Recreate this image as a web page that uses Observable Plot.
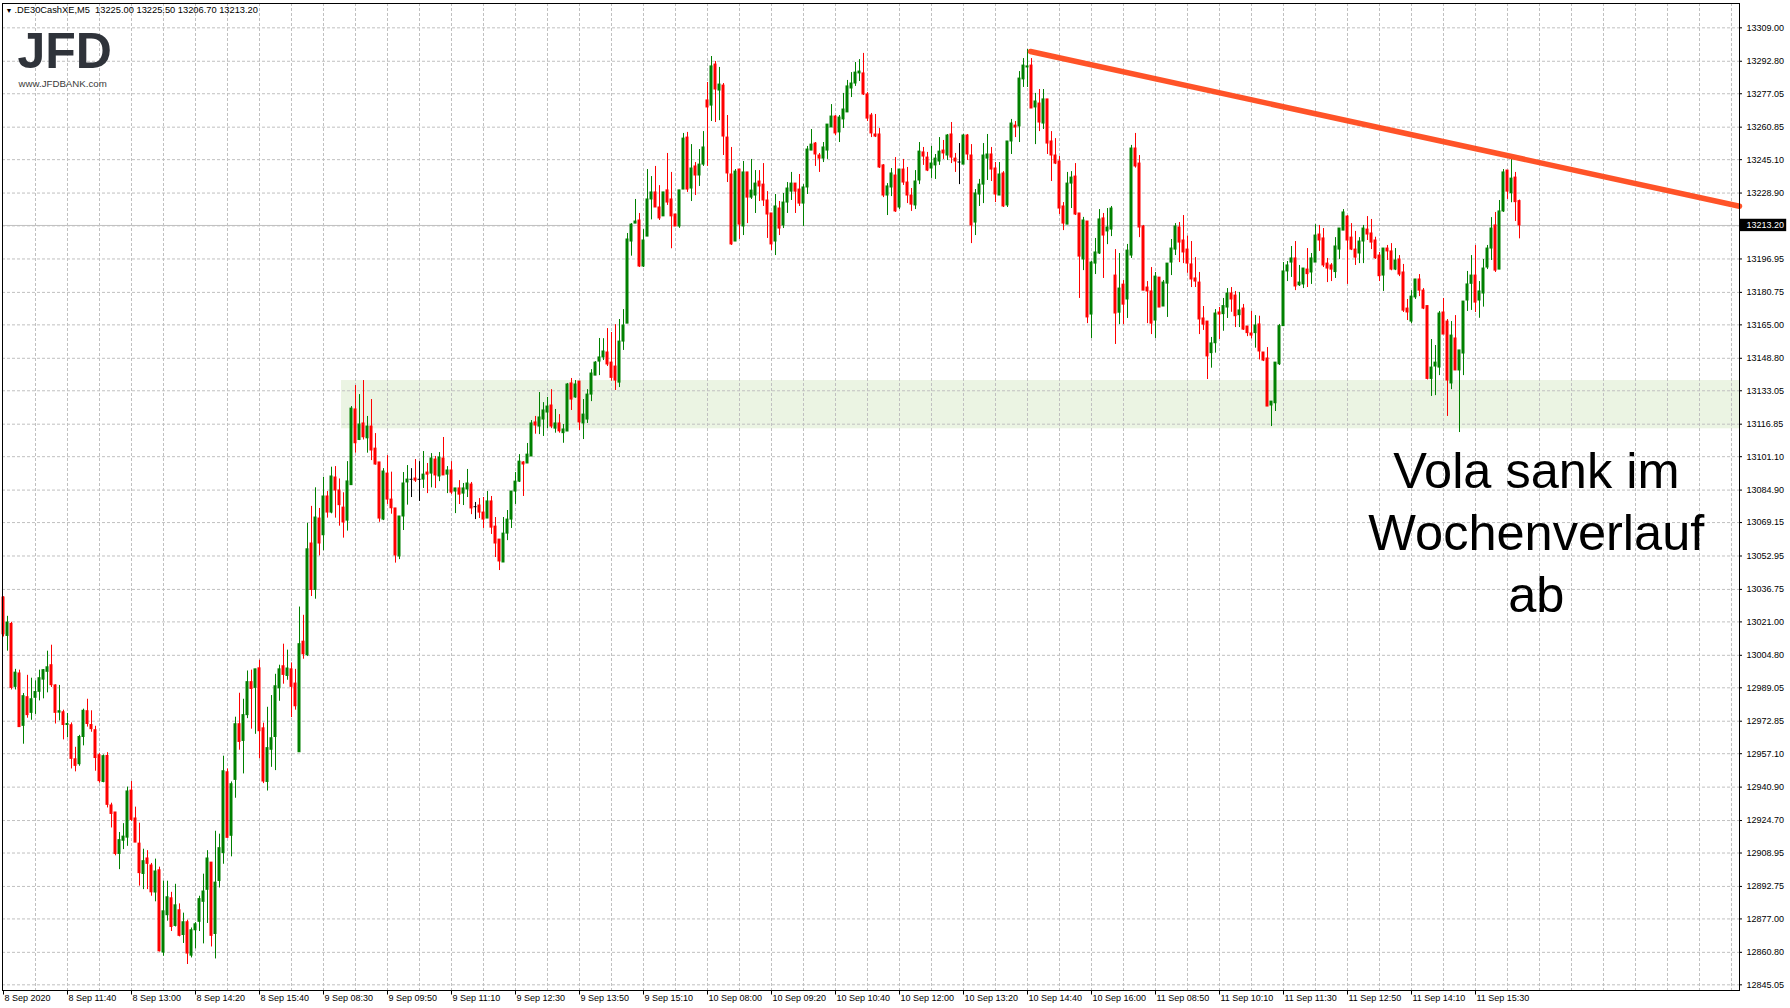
<!DOCTYPE html>
<html><head><meta charset="utf-8">
<script src="https://cdn.jsdelivr.net/npm/d3@7"></script>
<script src="https://cdn.jsdelivr.net/npm/@observablehq/plot@0.6"></script>
<style>html,body{margin:0;padding:0;background:#fff;}svg{display:block;}</style>
</head><body><div id="chart"></div>
<script>
// ---- data (5-minute bars, 8–11 Sep 2020) ----
const open = [13032.8,13014.2,13020,12989.5,12996,12970.6,12984.5,12976.9,12984.2,12987.1,
12993,12996.8,13000,12990.2,12977,12977.2,12971,12970.9,12954.4,12952,
12965.2,12977.7,12971,12968.5,12956.4,12943.4,12956,12932,12928.6,12908.5,
12914.9,12916.4,12939.2,12925.7,12913.5,12898.8,12906.3,12902.9,12889.8,12900.6,
12860.7,12878.8,12887,12873.6,12881.2,12869.2,12875.4,12859.2,12871.5,12875.6,
12885.3,12891.1,12904.3,12869.7,12895.4,12908.9,12948.1,12917.3,12944.4,12971.4,
12963.3,12975.8,12991.8,12989,12998.5,12969.4,12943.4,12959,12965.2,12988.8,
12999.5,12994.8,12998,12991.1,12957.8,13011.4,13004.8,13059,13036.5,13071.1,
13063,13081.8,13074,13091,13084.7,13076.4,13070.1,13087.3,13124,13109.2,
13117.2,13110,13115.7,13105,13098.3,13070.6,13092.9,13080.3,13076,13052.7,
13072.1,13088.6,13089.9,13090.5,13089.9,13090,13093.4,13092.9,13099.7,13091.5,
13100.2,13092.4,13094.4,13084.2,13085.7,13083.2,13085.2,13087.6,13076.6,13077.4,
13074,13071.1,13079.4,13067.2,13060.9,13049.8,13063.8,13070.6,13084.2,13089,
13098.3,13097.8,13101.2,13117.7,13115.7,13119.1,13122.5,13125.9,13114.7,13117.2,
13112.5,13113.3,13136.6,13129.8,13137.5,13117.2,13119.1,13131.2,13140.4,13147.2,
13149.2,13151.6,13146.7,13144.8,13137,13156.9,13165.6,13205.4,13214.1,13215.6,
13193.3,13207.8,13225.8,13229.2,13221.9,13217.6,13230.2,13225.8,13218.5,13212.7,
13230.6,13255.8,13231.1,13241.8,13237.4,13242.7,13273.8,13271.3,13291.2,13278.6,
13281,13255.8,13237.9,13205.4,13240.3,13212.7,13238.9,13226.7,13227.7,13234.5,
13233,13225.3,13219,13205.4,13221.4,13213.2,13224.3,13229.6,13233.5,13230.6,
13223.8,13231.6,13249.5,13252.9,13247.1,13245.6,13249.5,13260.7,13266,13258.3,
13264.6,13268,13279.6,13282,13286.9,13286.9,13276.7,13266.5,13257.3,13257.3,
13242.3,13227.7,13231.6,13237.4,13221.9,13240.3,13234,13227.7,13222.9,13235,
13248.6,13246.1,13240.8,13242.3,13244.2,13249.5,13247.1,13257.3,13245.6,13243.7,
13242.7,13256.8,13247.1,13214.6,13228.2,13233,13245.6,13247.6,13240.8,13227.7,
13238.4,13222.9,13253.9,13261.6,13261.2,13284,13289.8,13290.7,13270.4,13272.3,
13262.6,13274.3,13253.9,13247.1,13244.2,13222.4,13213.6,13233.5,13236.9,13219,
13196.7,13215.1,13170,13194.7,13199.6,13216.6,13210.3,13211.2,13188.9,13170.9,
13184.5,13177.3,13198.6,13250.5,13243.2,13212.7,13183.1,13181.2,13167.1,13187.9,
13173.9,13185,13195.2,13201.5,13212.2,13205.9,13201.5,13194.3,13187.5,13185.5,
13168.1,13166.6,13151.3,13156.1,13171,13170.2,13173.4,13180.2,13179.2,13169.7,
13172.9,13164.2,13160.8,13161,13165.2,13151.6,13148.7,13125.9,13127,13145.9,
13164.4,13190.9,13195.2,13197.2,13184.2,13184.6,13191.8,13190.4,13195.2,13208.8,
13206.9,13194.7,13193.8,13190.6,13201.5,13210.7,13217.5,13207.3,13201.5,13199.6,
13205.4,13211.2,13209.3,13205.9,13198.6,13188.9,13202,13200.6,13191.8,13196.7,
13190.4,13172.9,13166.6,13178.3,13187,13181.6,13174.1,13138.8,13144.8,13144.3,
13171,13166.6,13136.6,13158.4,13142.9,13151.1,13176.8,13184.9,13188.9,13176.8,
13180.2,13192.8,13202,13213.2,13191.8,13220,13239.8,13228.8,13236.4,13225.0];

const high = [13033.2,13023.7,13020.8,12998,12997.6,12986.3,12995.1,12993.7,12992.4,12997.6,
12997.9,13006.8,13009.7,12990.5,12990.2,12978.2,12976.6,12972,12960.2,12966,
12978.7,12983.5,12977.9,12970.4,12957.3,12956.5,12957.6,12933.1,12928.6,12918.9,
12923.2,12940.9,12943.6,12931.2,12923.4,12910.8,12910.1,12903.9,12906,12902.1,
12895.3,12895.3,12889.9,12893.8,12884.3,12879.8,12876.4,12872.6,12875.2,12888,
12898.7,12910.1,12904.3,12919.5,12918.1,12955.9,12949.7,12943.4,12974.8,12986.4,
12983.5,12997.2,12997.6,12998,13002.4,12971.9,12979.6,12985.3,12995.6,13000,
13010.2,13007.3,13001.1,12998,13028.2,13024.2,13068.8,13077,13086,13076,
13091.1,13084.2,13096,13096.3,13090.3,13083.6,13098.7,13125.4,13135.6,13131.2,
13138,13120.6,13128.8,13112.3,13098.3,13095.3,13101.6,13093.6,13076,13072.1,
13093.4,13096.8,13095.3,13099.7,13098.7,13103.6,13097.8,13102.6,13101.2,13103.1,
13110.4,13096.3,13098.7,13085.7,13089.5,13088.1,13094.9,13088.6,13078.9,13080.8,
13081.3,13084.2,13081.8,13071.6,13060.9,13071.6,13075,13084.2,13093.4,13102.1,
13098.7,13107.5,13118.6,13120.6,13132.2,13127.3,13129.8,13133.6,13124,13121.5,
13116.7,13136.6,13139,13138,13137.5,13128.8,13133.6,13143.3,13147.2,13158.4,
13158.3,13163.2,13161.3,13165.1,13167.6,13172.4,13209.3,13214.1,13225.8,13219,
13211.2,13240.3,13236.9,13241.8,13232.5,13229.2,13248.1,13238.9,13218.5,13230.2,
13257.8,13258.3,13252.4,13243.7,13250,13258.7,13282.5,13295.1,13292.7,13289.8,
13282,13266.5,13251,13240.3,13240.3,13244.2,13238.9,13245.2,13239.8,13239.8,
13243.2,13229.6,13219,13228.2,13224.8,13228.7,13234,13238.9,13233.5,13237.9,
13233,13251.5,13259.7,13253.4,13248.1,13253.4,13262.1,13271.8,13266.5,13266.5,
13277.2,13283.5,13287.3,13292.2,13293.6,13296.6,13277.6,13267.5,13267,13260.2,
13242.7,13233.5,13240.8,13246.1,13240.3,13245.2,13241.3,13231.1,13239.8,13253.4,
13251,13248.6,13251.5,13247.6,13255.8,13254.4,13257.3,13263.1,13248.1,13252.9,
13257.3,13257.3,13252.4,13230.6,13235.5,13252.9,13257.3,13251,13243.7,13243.7,
13239.3,13253.9,13264.6,13263.6,13287.8,13294.1,13298.5,13294.1,13277.2,13279.1,
13279.1,13274.3,13258.7,13255.3,13246.6,13224.3,13238.9,13239.3,13243.2,13219,
13217.1,13215.1,13195.7,13206.9,13220.9,13219,13221.4,13222.4,13201.5,13199.6,
13186.5,13204,13252,13257.8,13247.1,13213.2,13186,13192.8,13190.4,13187.9,
13186.5,13194.7,13206.4,13214.1,13214.6,13218,13208,13205.4,13197.6,13190.4,
13173.9,13166.6,13158.9,13172.4,13173.4,13177.8,13182.6,13183.1,13181.2,13180.7,
13174.9,13164.2,13171.5,13169.5,13169.2,13151.6,13154,13127.8,13146.7,13165.2,
13195.2,13195.7,13203,13205.4,13193.8,13192.3,13202,13199.6,13213.6,13213.2,
13211.7,13197.2,13194.7,13207.3,13211.7,13220.9,13218,13214.1,13210.3,13207.3,
13213.2,13217.5,13216.1,13207.5,13200.1,13202,13203.5,13204.4,13202,13198.6,
13194.3,13177.3,13181.6,13187,13189.4,13182.6,13174.1,13157.9,13155,13171.5,
13177.8,13167.6,13166.6,13169.5,13152.6,13176.3,13190.9,13198.6,13203.5,13186,
13196.7,13203.5,13217,13219.5,13225.3,13240.3,13239.8,13245.2,13238.9,13225.5];

const low = [13013.7,13006.8,12988,12988,12969.8,12961.7,12974.3,12973.3,12976.1,12982.7,
12983.7,12986.6,12989.2,12971.5,12973,12963.8,12964.8,12949.7,12948.3,12951,
12960.9,12970,12967.5,12948.6,12942.8,12943,12930.8,12921.1,12907.6,12900.9,
12910.6,12912.2,12924.2,12914,12892.9,12891.2,12891.2,12888,12885.3,12861,
12858.9,12875.9,12870.9,12873.1,12868.3,12865.1,12854.9,12858.1,12862.5,12870.9,
12864.9,12874.8,12863.4,12857.6,12892,12903.5,12916.3,12907.1,12935.5,12958.8,
12947.3,12974.1,12969,12966.5,12954.7,12942.6,12939,12950.5,12948.9,12982.5,
12990.8,12992.7,12974.6,12978.2,12957.8,13002.9,13004.2,13033.3,13032,13053,
13055.5,13071.3,13073.4,13071.3,13067.4,13061.6,13065,13087.3,13102.8,13108.9,
13109.2,13102.8,13099.2,13097,13069.3,13070.1,13077.9,13073.2,13049.5,13051.2,
13065.3,13077.6,13081.3,13088.6,13079.4,13085.7,13083.2,13086,13085.7,13089,
13092,13083.2,13082.7,13073.5,13077.9,13077.4,13081.3,13073,13070.6,13071.1,
13066.3,13071.1,13063.4,13052.2,13045.9,13049.8,13060.4,13066.3,13077.9,13088.6,
13081.8,13097.8,13101.2,13112,13111.8,13110.9,13114.7,13114.7,13112.5,13112.5,
13107.6,13113.3,13123.5,13129.4,13113.8,13109.4,13117.2,13127.8,13140.4,13140.4,
13147.7,13144.8,13137.7,13133.2,13134.6,13152.6,13165.6,13198.3,13214.1,13192.8,
13192.8,13207.8,13215.9,13221.9,13215.6,13217.6,13222.9,13201.9,13212.7,13211.8,
13230.6,13229.2,13224.8,13227.7,13232.1,13241.8,13241.8,13263.6,13263.1,13264,
13247.1,13234,13203.5,13205.4,13206.4,13208.3,13214.1,13225.8,13219,13224.8,
13222.4,13206.9,13201,13198.6,13208.3,13211.7,13219,13225.3,13219,13222.4,
13212.7,13228.2,13249.5,13241.8,13238.9,13243.7,13245.2,13260.7,13256.8,13253.4,
13260.2,13268,13275.2,13280.6,13283,13276.2,13263.6,13255.8,13255.8,13240.8,
13226.7,13218,13227.2,13219.5,13220.9,13232.6,13223.8,13220,13220.9,13233,
13242.3,13239.3,13236,13235.5,13242.3,13245.2,13244.7,13243.2,13238.9,13233,
13242.7,13244.7,13204.4,13208.3,13222.4,13223.8,13235,13234.5,13224.3,13227.7,
13221.9,13221.9,13247.6,13255.8,13253.4,13280.1,13280.1,13269.9,13252.4,13258.7,
13259.7,13247.6,13234.5,13242.7,13218.5,13210.7,13213.6,13221.4,13218,13177.8,
13191.3,13165.6,13158.4,13189.4,13199.1,13187.5,13203.9,13207.8,13155.5,13165.1,
13165.1,13168.1,13197.2,13241,13207.3,13181.6,13165.6,13160.3,13158.4,13173.4,
13173.9,13168.6,13188.9,13198.6,13195.2,13194.7,13190,13183.1,13183.1,13160.3,
13162.3,13138.5,13144,13151.3,13157.9,13161.9,13168.1,13171.1,13163.7,13163.7,
13162.3,13159.3,13158.2,13153.7,13148,13147.2,13125.4,13115.7,13123,13145.3,
13164.4,13186,13188,13181.6,13183.6,13182.6,13183.1,13184.6,13195.2,13200.6,
13192.8,13185.5,13186,13187.5,13196.7,13210.7,13184.6,13201,13193.8,13194.7,
13194.7,13205.9,13201.5,13196.7,13186,13181.2,13196.2,13191.2,13191.3,13188.4,
13171,13167.1,13165.6,13177.3,13178.7,13172.4,13138.3,13130.3,13130.7,13140.4,
13160.3,13120.6,13133.6,13142.9,13112.8,13140.4,13171.5,13172,13171,13168.2,
13173.6,13191.8,13196.2,13190.4,13191.8,13219.5,13225.8,13224.2,13215.1,13206.7];

const close = [13015,13020.7,12989,12996.4,12970,12985,12975.8,12983.5,12987,12993.7,
12997.6,12999,12990.3,12976.9,12977.7,12971,12971.5,12954.6,12951.2,12965.2,
12977.9,12971.5,12969,12955,12943.8,12955.9,12932.3,12927.9,12908.5,12915.2,
12916.9,12938.8,12925,12914,12899.2,12905,12903.7,12889.9,12900,12861.3,
12880.7,12887.5,12873.1,12883.6,12868.8,12875.4,12860.2,12871.5,12874.4,12886.6,
12890.3,12906.3,12868.8,12894.6,12911.3,12948.6,12916.3,12942.3,12971.4,12962.8,
12975.8,12991.8,12988.5,12998,12968,12943.6,12959.8,12964.6,12989.8,12998,
12995.3,12998.4,12989.5,12980.1,13010.2,13005.3,13056.2,13036.5,13071.6,13059,
13081.8,13074,13091.5,13084.7,13077.6,13069.2,13089.1,13124.4,13107.6,13116.7,
13110.5,13115.7,13104.1,13097.3,13071.1,13093.9,13080.3,13076.1,13053.2,13072.1,
13088.1,13090,13089.9,13089.5,13089.9,13092.4,13092.4,13100.2,13092,13100.7,
13092,13094.4,13083.7,13085.7,13082.7,13085.7,13088.1,13076,13076.6,13074,
13070.6,13079.4,13066.7,13059,13050.3,13063.8,13070.6,13084.2,13089,13098.7,
13097.3,13102.1,13117.2,13116.2,13120.1,13123.5,13125.4,13115.7,13117.2,13113.4,
13114.3,13136.1,13128.8,13136.1,13117.7,13121.5,13131.2,13141.4,13146.7,13149.2,
13152.1,13145.8,13139.3,13138,13156.9,13164.7,13206.4,13213.6,13215.1,13193.3,
13205.9,13225.8,13229.2,13221.9,13216.6,13229.2,13224.3,13217.6,13212.7,13230.2,
13255.3,13230.6,13240.8,13237.4,13242.7,13251,13270.4,13290.3,13279.1,13281.5,
13256.3,13238.4,13204,13239.3,13213.6,13238.9,13226.7,13230.1,13233.5,13232.1,
13225.3,13218.5,13204,13222.4,13211.7,13224.3,13231.1,13233.5,13229.6,13223.8,
13231.6,13250,13252.4,13247.6,13245.6,13251,13262.1,13266,13257.8,13265.5,
13269.4,13280.6,13282,13287.3,13287.8,13276.7,13265,13257.8,13256.3,13241.3,
13227.7,13232.1,13238.4,13220,13240.3,13234,13227.7,13223.3,13234.5,13249,
13246.6,13239.8,13243.2,13245.6,13249,13248.1,13256.8,13246.1,13244.2,13243.7,
13256.8,13247.6,13213.2,13228.7,13233,13247.1,13247.6,13240.3,13228.2,13237.9,
13222.4,13253.9,13262.6,13260.7,13284.4,13290.7,13290.3,13269.9,13273.3,13263.1,
13274.3,13252.9,13247.1,13243.2,13221.4,13214.1,13233.5,13236.4,13218.5,13198.1,
13215.6,13168.6,13195.2,13200.1,13216.1,13208.3,13212.2,13221.4,13170.5,13182.6,
13174.8,13201,13250.5,13241.8,13212.2,13181.6,13181.2,13165.6,13188.4,13173.4,
13185.5,13194.7,13202,13212.7,13204.9,13200.1,13194.7,13187,13186,13167.6,
13165.1,13149.7,13156,13170.5,13170,13174.1,13180.2,13177.3,13169.2,13172,
13162.7,13161,13159.8,13164.7,13152.1,13147.7,13125.4,13127.8,13146.7,13164.4,
13190.9,13193.8,13197.2,13183.6,13185.5,13192.3,13189.6,13197.2,13208.3,13205.9,
13193.8,13192.3,13191.8,13203,13211.7,13219.5,13205.9,13201.5,13197.6,13205.4,
13211.7,13208.8,13204.9,13197.3,13188.6,13202,13200.6,13191.8,13196.2,13189.4,
13171.9,13171,13178.7,13187,13181.6,13172.9,13138.8,13144.3,13146.7,13170.5,
13160.3,13138,13159.8,13142.9,13152.6,13176.3,13184.6,13188.9,13175.8,13181.2,
13192.3,13202,13211.7,13191.3,13220,13238.9,13229.6,13235.9,13224.5,13213.2];

const priceTicks = [13309.00,13292.80,13277.05,13260.85,13245.10,13228.90,13196.95,13180.75,
13165.00,13148.80,13133.05,13116.85,13101.10,13084.90,13069.15,13052.95,13036.75,13021.00,
13004.80,12989.05,12972.85,12957.10,12940.90,12924.70,12908.95,12892.75,12877.00,12860.80,12845.05];
const hiddenGridPrice = [13213.00];
const timeTicks = [0,16,32,48,64,80,96,112,128,144,160,176,192,208,224,240,256,272,288,304,320,336,352,368];
const timeLabels = ["8 Sep 2020","8 Sep 11:40","8 Sep 13:00","8 Sep 14:20","8 Sep 15:40",
"9 Sep 08:30","9 Sep 09:50","9 Sep 11:10","9 Sep 12:30","9 Sep 13:50","9 Sep 15:10",
"10 Sep 08:00","10 Sep 09:20","10 Sep 10:40","10 Sep 12:00","10 Sep 13:20","10 Sep 14:40","10 Sep 16:00",
"11 Sep 08:50","11 Sep 10:10","11 Sep 11:30","11 Sep 12:50","11 Sep 14:10","11 Sep 15:30"];
const lastPrice = 13213.20;
const headerText = ".DE30CashXE,M5  13225.00 13225.50 13206.70 13213.20";
const supportZone = [{from: 84.5, to: 434, lo: 13114.6, hi: 13138.0}];
const trendLine = [{i: 256.75, p: 13297.5}, {i: 434, p: 13222.5}];
const noteText = ["Vola sank im\nWochenverlauf\nab"];
const notePos = [{i: 383.2, p: 13065.4}];

// ---- build ----
const bars = open.map((o, i) => ({i, o, h: high[i], l: low[i], c: close[i]}));
const col = d => d.c > d.o ? "#008000" : d.c < d.o ? "#ff0000" : "#000000";
const xDomain = [-0.25, 434];
const yDomain = [12842.3, 13320.8];
const gridX = d3.range(8, 433, 8);
const font = "'Liberation Sans', Arial, sans-serif";
const timeAxis = timeTicks.map((t, k) => ({t, label: timeLabels[k]}));

const chart = Plot.plot({
  width: 1790, height: 1008,
  marginLeft: 2, marginRight: 51, marginTop: 3, marginBottom: 18,
  x: {domain: xDomain, axis: null},
  y: {domain: yDomain, axis: null},
  style: {fontFamily: font, fontSize: "9px", background: "#ffffff", overflow: "visible"},
  marks: [
    Plot.rect(supportZone, {x1: "from", x2: "to", y1: "lo", y2: "hi", fill: "#ebf4e3"}),
    Plot.ruleY(priceTicks.concat(hiddenGridPrice), {stroke: "#c0c0c0", strokeDasharray: "3,2"}),
    Plot.ruleX(gridX, {stroke: "#c0c0c0", strokeDasharray: "3,2"}),
    Plot.ruleY([lastPrice], {stroke: "#c0c0c0"}),
    Plot.ruleX(bars, {x: "i", y1: "l", y2: "h", stroke: col, strokeWidth: 1}),
    Plot.rect(bars, {x1: d => d.i - 0.375, x2: d => d.i + 0.375,
      y1: d => Math.min(d.o, d.c), y2: d => Math.max(d.o, d.c), fill: col,
      insetTop: -0.5, insetBottom: -0.5}),
    Plot.line(trendLine, {x: "i", y: "p", stroke: "#ff4a1c", strokeWidth: 5.5, strokeOpacity: 0.95}),
    Plot.frame({stroke: "#000000"}),
    // right price axis
    Plot.ruleY(priceTicks, {x1: 434, x2: 434.75, stroke: "#000"}),
    Plot.text(priceTicks, {x: 434, y: d => d, text: d => d.toFixed(2), dx: 7, textAnchor: "start", fill: "#000"}),
    Plot.rect([lastPrice], {x1: 434.1, x2: 445.8, y1: d => d - 3.0, y2: d => d + 3.0, fill: "#000"}),
    Plot.text([lastPrice], {x: 434, y: d => d, text: d => d.toFixed(2), dx: 7, textAnchor: "start", fill: "#fff"}),
    // bottom time axis
    Plot.ruleX(timeAxis, {x: "t", y1: yDomain[0], y2: yDomain[0] - 2.2, stroke: "#000"}),
    Plot.text(timeAxis, {x: "t", y: yDomain[0], text: "label", dx: 1, dy: 8, textAnchor: "start", lineAnchor: "middle", fill: "#000"}),
    // header and logo
    Plot.text(["\u25BC"], {frameAnchor: "top-left", dx: 3, dy: 7, lineAnchor: "middle", textAnchor: "start", fontSize: 7, fill: "#000"}),
    Plot.text([headerText], {frameAnchor: "top-left", dx: 12, dy: 7, lineAnchor: "middle", textAnchor: "start", fontSize: 9.3, fill: "#000"}),
    Plot.text(["JFD"], {frameAnchor: "top-left", dx: 15, dy: 29, lineAnchor: "top", textAnchor: "start", fontSize: 50, fontWeight: "bold", fill: "#2f333a"}),
    Plot.text(["www.JFDBANK.com"], {frameAnchor: "top-left", dx: 16, dy: 80, lineAnchor: "middle", textAnchor: "start", fontSize: 9.7, fill: "#3a3a3a"}),
    // annotation
    Plot.text(notePos, {x: "i", y: "p", text: () => noteText[0], textAnchor: "middle", lineAnchor: "middle",
      fontSize: 50.5, lineHeight: 1.23, fill: "#000", fontFamily: font})
  ]
});
document.getElementById("chart").appendChild(chart);
</script>
</body></html>
